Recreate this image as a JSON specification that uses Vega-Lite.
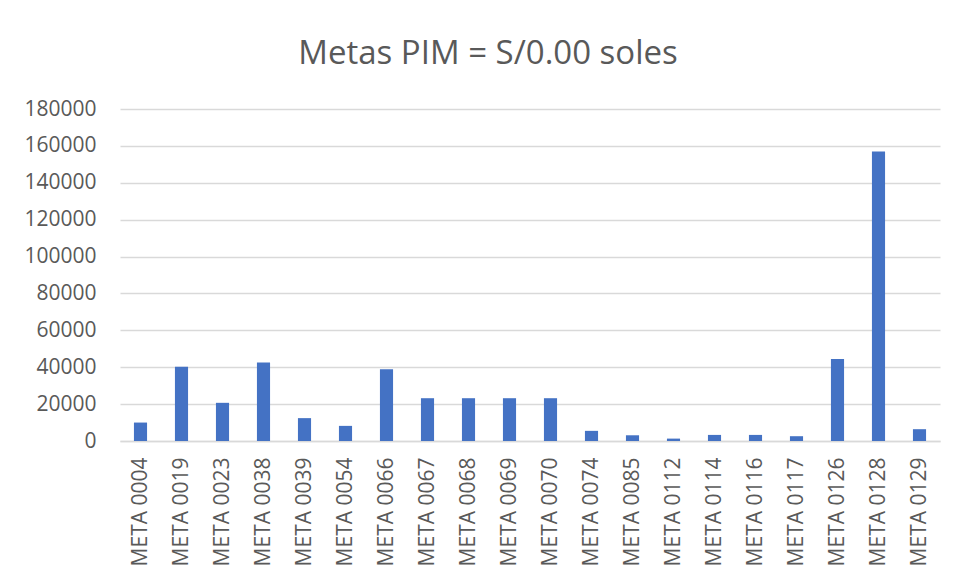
{
  "$schema": "https://vega.github.io/schema/vega-lite/v6.json",
  "autosize": "none",
  "width": 820,
  "height": 332,
  "padding": {"left": 120, "top": 109, "right": 16, "bottom": 139},
  "background": "white",
  "title": {
    "text": "Metas PIM = S/0.00 soles",
    "font": "Open Sans",
    "fontSize": 33,
    "fontWeight": "normal",
    "color": "#595959",
    "anchor": "middle",
    "frame": "group",
    "dx": -42,
    "offset": 27
  },
  "data": {
    "values": [
      {"meta": "META 0004", "valor": 10000},
      {"meta": "META 0019", "valor": 40200},
      {"meta": "META 0023", "valor": 20700},
      {"meta": "META 0038", "valor": 42500},
      {"meta": "META 0039", "valor": 12400},
      {"meta": "META 0054", "valor": 8200},
      {"meta": "META 0066", "valor": 38900},
      {"meta": "META 0067", "valor": 23200},
      {"meta": "META 0068", "valor": 23200},
      {"meta": "META 0069", "valor": 23200},
      {"meta": "META 0070", "valor": 23200},
      {"meta": "META 0074", "valor": 5500},
      {"meta": "META 0085", "valor": 3100},
      {"meta": "META 0112", "valor": 1300},
      {"meta": "META 0114", "valor": 3300},
      {"meta": "META 0116", "valor": 3300},
      {"meta": "META 0117", "valor": 2600},
      {"meta": "META 0126", "valor": 44400},
      {"meta": "META 0128", "valor": 156900},
      {"meta": "META 0129", "valor": 6400}
    ]
  },
  "mark": {"type": "bar", "color": "#4472C4"},
  "encoding": {
    "x": {
      "field": "meta",
      "type": "nominal",
      "sort": null,
      "scale": {"paddingInner": 0.68, "paddingOuter": 0.34},
      "axis": {
        "title": null,
        "labelAngle": -90,
        "labelFont": "Open Sans",
        "labelFontSize": 21,
        "labelColor": "#595959",
        "labelPadding": 16,
        "ticks": false,
        "domain": true,
        "domainColor": "#d9d9d9",
        "domainWidth": 1.5,
        "grid": false
      }
    },
    "y": {
      "field": "valor",
      "type": "quantitative",
      "scale": {"domain": [0, 180000]},
      "axis": {
        "title": null,
        "values": [0, 20000, 40000, 60000, 80000, 100000, 120000, 140000, 160000, 180000],
        "format": "d",
        "labelFont": "Open Sans",
        "labelFontSize": 21,
        "labelColor": "#595959",
        "labelPadding": 24,
        "ticks": false,
        "domain": false,
        "grid": true,
        "gridColor": "#d9d9d9",
        "gridWidth": 1.5
      }
    }
  },
  "config": {"view": {"stroke": null}}
}
